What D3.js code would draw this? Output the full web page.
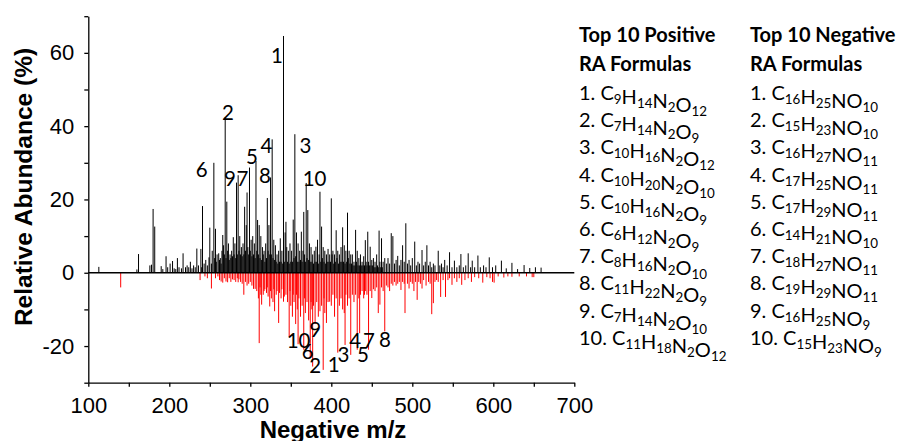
<!DOCTYPE html>
<html>
<head>
<meta charset="utf-8">
<script src="https://cdn.jsdelivr.net/npm/d3@7"></script>
<style>
  body { margin: 0; background: #fff; }
  svg { display: block; }
</style>
</head>
<body>
<svg id="chart" width="899" height="441"></svg>
<script>
// ---- data ----
const xTicks = [100, 150, 200, 250, 300, 350, 400, 450, 500, 550, 600, 650, 700];
const xTickLabels = [100, 200, 300, 400, 500, 600, 700];
const yTicks = [-30, -20, -10, 0, 10, 20, 30, 40, 50, 60, 70];
const yTickLabels = [-20, 0, 20, 40, 60];

// [m/z, relative abundance %] for the positive (black) spectrum
const positivePeaks = [
  [113,1.6],[160,0.9],[162,5.1],[176,2.0],[178,2.2],[180,17.4],[182,12.6],[190,1.8],[192,1.0],
  [196,4.5],[198,1.5],[201,2.5],[204,3.2],[206,1.2],[208,1.0],[210,4.0],[212,1.5],[215,1.2],
  [217,5.3],[220,1.5],[222,2.0],[224,1.5],[226,3.0],[228,1.2],[230,2.0],[232,1.5],[234,6.6],
  [236,2.0],[239,6.5],[240,1.5],[241,18.2],[243,2.5],[245,3.5],[247,2.0],[249,4.2],[250,12.3],
  [252,2.5],[253,6.0],[255,30.0],[256,4.0],[257,12.0],[258,3.0],[259,5.0],[261,5.3],[262,3.5],
  [263,4.0],[264,2.5],[265,6.0],[266,10.3],[267,7.5],[268,5.0],[269,42.4],[270,4.0],[271,19.4],
  [272,6.0],[273,8.0],[274,3.5],[275,5.0],[276,4.0],[277,6.0],[278,4.5],[279,9.7],[280,5.0],
  [281,8.0],[282,4.0],[283,24.6],[284,5.0],[285,26.6],[286,6.0],[287,10.0],[288,5.0],[289,7.0],
  [290,4.5],[291,8.0],[292,5.0],[293,18.0],[294,6.0],[295,13.0],[296,21.9],[297,7.0],[298,5.0],
  [299,28.7],[300,6.0],[301,9.0],[302,4.5],[303,10.0],[304,5.0],[305,8.0],[306,4.0],[307,30.5],
  [308,6.0],[309,14.4],[310,5.0],[311,13.0],[312,4.0],[313,10.0],[314,3.5],[315,7.0],[316,5.0],
  [317,6.0],[318,3.0],[319,8.0],[320,4.0],[321,20.4],[322,6.0],[323,13.0],[324,5.0],[325,26.0],
  [326,5.0],[327,36.4],[328,4.0],[329,9.0],[330,3.5],[331,7.5],[332,3.0],[333,5.0],[334,2.5],
  [335,6.0],[336,3.0],[337,9.4],[338,3.0],[339,6.0],[340,2.5],[341,64.6],[342,3.0],[343,11.0],
  [344,13.9],[345,7.0],[346,3.0],[347,6.0],[348,2.5],[349,8.0],[350,3.0],[351,6.0],[352,3.0],
  [353,14.5],[354,4.0],[355,37.8],[356,4.5],[357,11.0],[358,3.0],[359,8.0],[360,3.0],[361,6.0],
  [362,3.5],[363,11.2],[364,3.0],[365,6.0],[366,16.6],[367,5.0],[368,3.0],[369,24.5],[370,4.0],
  [371,17.1],[372,3.5],[373,8.0],[374,3.0],[375,7.0],[376,3.0],[377,5.0],[378,2.5],[379,6.0],
  [380,3.0],[381,7.1],[382,3.0],[383,9.0],[384,2.5],[385,5.0],[386,22.1],[387,3.0],[388,12.6],
  [389,4.0],[390,7.0],[391,3.0],[392,6.0],[393,2.5],[394,5.0],[395,3.0],[396,6.5],[397,3.0],
  [398,5.0],[399,3.0],[400,20.3],[401,5.0],[402,6.0],[403,2.5],[404,5.0],[405,3.0],[406,11.6],
  [407,4.0],[408,6.0],[409,2.5],[410,5.0],[411,3.0],[412,7.0],[413,3.0],[414,12.4],[415,3.0],
  [416,7.5],[417,2.5],[418,6.0],[419,3.0],[420,16.4],[421,4.0],[422,6.0],[423,2.5],[424,5.0],
  [425,2.5],[426,5.0],[427,2.0],[428,3.0],[429,2.0],[430,11.7],[431,3.0],[432,6.0],[433,2.0],
  [434,4.0],[435,2.0],[436,5.0],[437,2.0],[438,3.0],[439,2.0],[440,4.5],[441,2.0],[442,8.9],
  [443,3.0],[444,2.0],[445,11.2],[446,3.0],[447,2.0],[448,7.1],[449,2.0],[450,3.5],[451,2.0],
  [452,4.0],[453,1.5],[454,3.0],[455,1.5],[456,5.0],[457,2.0],[458,1.5],[459,11.5],[460,3.0],
  [461,1.5],[462,9.4],[463,1.5],[464,3.0],[466,4.0],[468,2.5],[470,4.0],[472,2.5],[474,10.8],
  [476,10.0],[478,2.5],[480,3.5],[482,4.6],[484,2.0],[486,3.5],[488,7.5],[490,3.0],[492,13.5],
  [494,2.5],[496,3.5],[498,2.0],[500,4.0],[503,8.5],[505,2.0],[507,3.0],[509,2.5],[512,6.2],
  [514,2.0],[516,3.0],[518,7.5],[520,2.0],[522,3.0],[524,1.5],[526,2.5],[528,2.0],[532,6.0],
  [534,2.0],[536,2.5],[538,1.5],[540,3.5],[543,2.0],[546,5.6],[549,1.5],[552,3.3],[555,1.5],
  [558,2.0],[560,5.1],[563,1.5],[566,2.0],[569,5.3],[572,1.5],[574,3.3],[577,1.5],[581,4.7],
  [584,1.5],[588,2.0],[591,1.5],[595,4.2],[599,1.5],[603,2.0],[610,3.3],[616,1.2],[623,2.7],
  [630,1.0],[638,2.1],[645,1.3],[652,1.5],[659,1.4]
];

// [m/z, relative abundance %] for the negative (red) spectrum
const negativePeaks = [
  [140,-4.0],[238,-2.0],[244,-1.0],[247,-1.5],[252,-4.3],[257,-1.5],[260,-1.0],[262,-2.0],
  [264,-2.4],[266,-2.7],[268,-1.5],[270,-2.4],[272,-2.6],[274,-1.5],[276,-2.5],[278,-1.8],
  [280,-2.0],[282,-2.5],[284,-1.5],[285,-2.6],[286,-1.8],[288,-2.5],[290,-3.0],[292,-6.0],
  [294,-2.5],[296,-3.5],[298,-3.0],[300,-2.5],[302,-3.5],[304,-4.4],[306,-4.4],[308,-5.0],
  [310,-7.0],[311,-19.2],[312,-4.0],[313,-6.0],[314,-8.7],[316,-6.0],[317,-5.0],[318,-4.5],
  [320,-5.5],[321,-4.0],[322,-6.5],[324,-9.2],[325,-5.0],[326,-7.0],[328,-8.0],[329,-4.5],
  [330,-10.5],[332,-6.0],[333,-5.0],[335,-13.7],[336,-5.5],[338,-7.0],[339,-4.5],[341,-7.9],
  [342,-6.5],[344,-6.0],[346,-8.0],[348,-17.4],[349,-5.0],[350,-9.0],[352,-12.0],[353,-6.0],
  [354,-8.0],[356,-14.0],[357,-6.0],[358,-10.0],[359,-19.5],[360,-7.0],[362,-12.0],[364,-9.0],
  [366,-21.0],[367,-7.0],[368,-11.0],[370,-8.0],[372,-13.0],[374,-23.0],[375,-8.0],[376,-10.0],
  [377,-25.6],[378,-9.0],[380,-14.0],[382,-8.0],[384,-12.0],[386,-10.5],[388,-9.0],[390,-26.5],
  [391,-7.0],[392,-11.0],[394,-13.7],[396,-8.0],[398,-7.9],[400,-9.0],[402,-6.0],[404,-12.0],
  [406,-7.0],[408,-21.8],[410,-9.0],[412,-7.0],[414,-10.0],[416,-11.0],[417,-19.7],[418,-6.0],
  [420,-9.0],[422,-7.0],[424,-22.4],[426,-6.0],[428,-8.0],[430,-6.0],[432,-21.0],[434,-7.0],
  [435,-16.5],[436,-6.0],[438,-5.0],[440,-7.0],[441,-6.0],[442,-5.0],[444,-6.0],[446,-21.0],
  [448,-5.0],[450,-6.9],[452,-4.5],[454,-5.0],[456,-4.0],[458,-11.0],[460,-8.7],[462,-4.0],
  [464,-5.0],[466,-16.0],[468,-3.5],[470,-4.0],[472,-5.0],[474,-3.0],[476,-3.5],[478,-2.5],
  [480,-3.5],[482,-3.0],[484,-2.5],[486,-4.7],[488,-2.5],[490,-3.0],[491,-11.0],[494,-3.0],
  [496,-4.3],[498,-2.5],[500,-3.0],[502,-5.0],[504,-2.5],[506,-7.4],[508,-2.5],[510,-3.0],
  [512,-4.3],[514,-2.0],[517,-3.5],[520,-2.5],[522,-3.0],[524,-11.3],[526,-8.3],[528,-2.5],
  [530,-2.0],[532,-2.5],[535,-6.6],[538,-2.0],[541,-6.6],[544,-2.0],[546,-1.5],[549,-3.3],
  [552,-1.5],[555,-2.5],[558,-1.5],[561,-3.3],[565,-2.0],[569,-1.5],[573,-2.5],[577,-1.2],
  [582,-1.5],[587,-2.7],[592,-1.2],[596,-1.5],[599,-2.5],[601,-2.7],[606,-1.0],[613,-1.3],
  [618,-1.0],[623,-1.1],[632,-1.0],[641,-1.0],[648,-1.2],[650,-1.2]
];

// peak number labels: [text, m/z of label centre, RA of label baseline]
const positiveLabels = [
  ["1",333,57.1],["2",272.5,41.7],["3",368,32.7],["4",320,32.7],["5",302,29.8],
  ["6",240,26.2],["7",290.4,23.7],["8",318,24.4],["9",275,23.7],["10",379.3,23.7]
];
const negativeLabels = [
  ["1",403,-27.0],["2",380,-27.4],["3",415,-24.3],["4",429.6,-20.4],["5",439,-24.3],
  ["6",371,-23.4],["7",446.5,-20.6],["8",466.3,-20.2],["9",380,-17.5],["10",359.6,-20.6]
];

const legendTitles = [["Top 10 Positive", "RA Formulas"], ["Top 10 Negative", "RA Formulas"]];
const positiveFormulas = ["C9H14N2O12","C7H14N2O9","C10H16N2O12","C10H20N2O10","C10H16N2O9",
  "C6H12N2O9","C8H16N2O10","C11H22N2O9","C7H14N2O10","C11H18N2O12"];
const negativeFormulas = ["C16H25NO10","C15H23NO10","C16H27NO11","C17H25NO11","C17H29NO11",
  "C14H21NO10","C18H27NO11","C19H29NO11","C16H25NO9","C15H23NO9"];

// ---- layout ----
const svg = d3.select("#chart");
const x = d3.scaleLinear().domain([100, 700]).range([88.3, 574.3]);
const y = d3.scaleLinear().domain([-30, 70]).range([382.7, 16.2]);
const axisFont = "'Liberation Sans', Arial, sans-serif";
const labelFont = "Lato, 'Open Sans', sans-serif";

// Sticks
svg.append("g").selectAll("line")
  .data(negativePeaks).enter().append("line")
  .attr("x1", d => x(d[0])).attr("x2", d => x(d[0]))
  .attr("y1", y(0)).attr("y2", d => y(d[1]))
  .attr("stroke", "#ff0000").attr("stroke-width", 1);

svg.append("g").selectAll("line")
  .data(positivePeaks).enter().append("line")
  .attr("x1", d => x(d[0])).attr("x2", d => x(d[0]))
  .attr("y1", y(0)).attr("y2", d => y(d[1]))
  .attr("stroke", "#000").attr("stroke-width", 1);

// Zero line
svg.append("line")
  .attr("x1", x(100)).attr("x2", x(700))
  .attr("y1", y(0)).attr("y2", y(0))
  .attr("stroke", "#000").attr("stroke-width", 1.5);

// Axes
const yAxis = d3.axisLeft(y).tickValues(yTicks).tickSize(4).tickSizeOuter(0).tickPadding(10)
  .tickFormat(d => yTickLabels.includes(d) ? String(d) : "");
const xAxis = d3.axisBottom(x).tickValues(xTicks).tickSize(4).tickSizeOuter(0).tickPadding(11)
  .tickFormat(d => xTickLabels.includes(d) ? String(d) : "");

const gy = svg.append("g").attr("transform", `translate(${x(100)},0)`).call(yAxis);
const gx = svg.append("g").attr("transform", `translate(0,${y(-30)})`).call(xAxis);
[gx, gy].forEach(g => {
  g.selectAll("path, line").attr("stroke", "#000").attr("stroke-width", 1.3);
  g.selectAll("text").attr("font-family", axisFont).attr("font-size", 22).attr("fill", "#000");
});

// Axis titles
svg.append("text")
  .attr("transform", "translate(32,187) rotate(-90)")
  .attr("text-anchor", "middle")
  .attr("font-family", axisFont).attr("font-weight", "bold").attr("font-size", 24.5)
  .text("Relative Abundance (%)");
svg.append("text")
  .attr("x", 333).attr("y", 438)
  .attr("text-anchor", "middle")
  .attr("font-family", axisFont).attr("font-weight", "bold").attr("font-size", 24)
  .text("Negative m/z");

// Peak labels
svg.append("g").selectAll("text")
  .data(positiveLabels.concat(negativeLabels)).enter().append("text")
  .attr("x", d => x(d[1])).attr("y", d => y(d[2]))
  .attr("text-anchor", "middle")
  .attr("font-family", labelFont).attr("font-size", 20.5)
  .text(d => d[0]);

// Legend with subscripted formulas
const legendX = [579, 750];
const titleY = [42, 71];
const rowY0 = 100, rowStep = 27.2;
const fontSize = 20;

function addFormula(text, prefix, formula) {
  text.append("tspan").text(prefix);
  const parts = formula.match(/[A-Z][a-z]?\d*/g);
  parts.forEach(p => {
    const el = p.match(/[A-Z][a-z]?/)[0];
    const n = p.slice(el.length);
    text.append("tspan").text(el);
    if (n) {
      text.append("tspan").attr("dy", 4).attr("font-size", fontSize * 0.67).text(n);
      text.append("tspan").attr("dy", -4).text("");
    }
  });
}

[positiveFormulas, negativeFormulas].forEach((list, c) => {
  const g = svg.append("g").attr("font-family", labelFont).attr("fill", "#000");
  legendTitles[c].forEach((t, i) => {
    g.append("text").attr("x", legendX[c]).attr("y", titleY[i])
      .attr("font-weight", "bold").attr("font-size", fontSize).text(t);
  });
  list.forEach((f, i) => {
    const t = g.append("text").attr("x", legendX[c]).attr("y", rowY0 + i * rowStep)
      .attr("font-size", fontSize);
    addFormula(t, (i + 1) + ". ", f);
  });
});
</script>
</body>
</html>
